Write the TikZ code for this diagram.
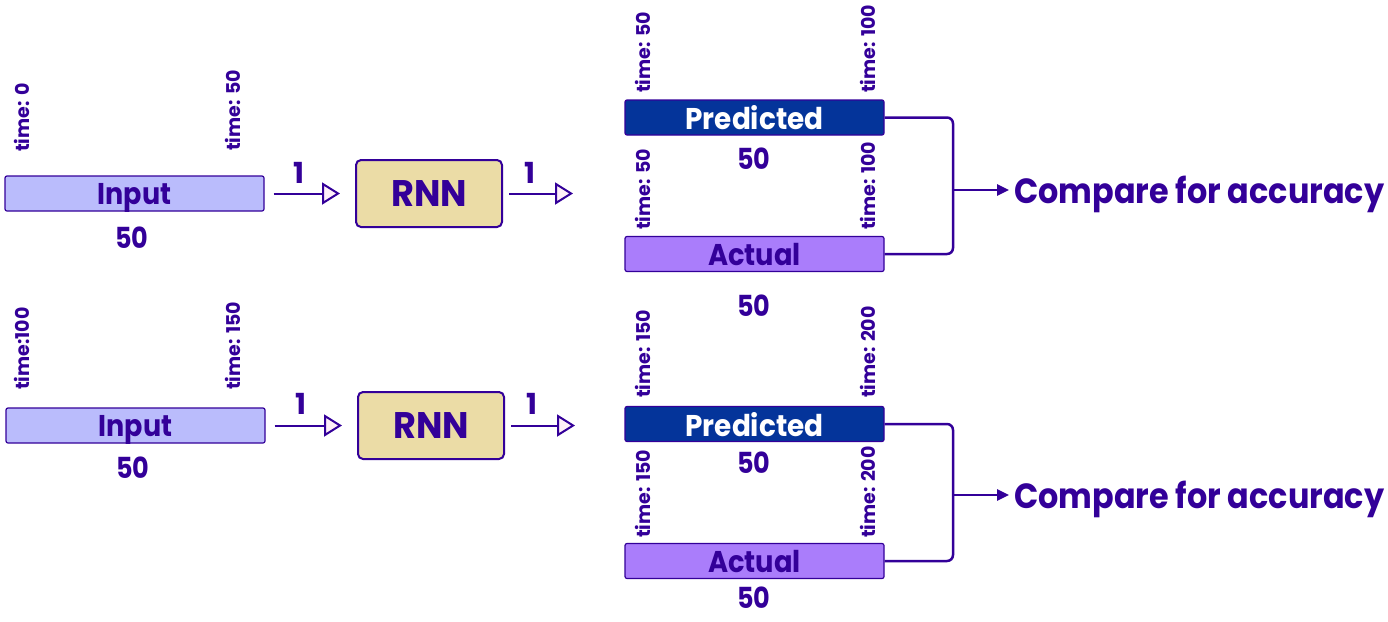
\documentclass[tikz,border=0pt]{standalone}
\usepackage{fontspec}
\usepackage{graphicx}
\setmainfont{Poppins}
\usetikzlibrary{arrows.meta}
\definecolor{ink}{HTML}{330099}
\definecolor{inputfill}{HTML}{BABCFC}
\definecolor{predfill}{HTML}{04349A}
\definecolor{actfill}{HTML}{AA7DFB}
\definecolor{rnnfill}{HTML}{EBDCA6}
\definecolor{headfill}{HTML}{FFF0F8}
\newcommand\narrowtxt[2]{\scalebox{#1}[1]{#2}}
\tikzset{
 every node/.style={text=ink},
 bar/.style={draw=ink, line width=1.2pt, rounded corners=2pt, minimum width=259pt, minimum height=35pt, inner sep=0pt, text depth=0pt, font=\bfseries\fontsize{30}{30}\selectfont},
 inbar/.style={bar, fill=inputfill},
 predbar/.style={bar, fill=predfill, text=white},
 actbar/.style={bar, fill=actfill},
 rnnbox/.style={draw=ink, line width=2pt, rounded corners=5pt, fill=rnnfill, minimum width=146pt, minimum height=67pt, inner sep=0pt, text depth=0pt, font=\bfseries\fontsize{37}{37}\selectfont},
 num/.style={inner sep=0pt, font=\bfseries\fontsize{29}{29}\selectfont},
 tlabel/.style={rotate=90, anchor=west, inner sep=0pt, font=\bfseries\fontsize{19}{19}\selectfont},
 flow/.style={draw=ink, line width=2pt, -{Triangle[length=18pt, width=22pt, fill=headfill]}},
 joinline/.style={draw=ink, line width=2.5pt, rounded corners=6pt},
 cmp/.style={draw=ink, line width=2.5pt, -{Triangle[length=12pt, width=11pt]}, shorten >=5pt},
 result/.style={anchor=west, inner sep=0pt, font=\bfseries\fontsize{35}{35}\selectfont}
}
\begin{document}
\begin{tikzpicture}[x=1pt, y=-1pt]
\useasboundingbox (0,0) rectangle (1388,621);
% ---------- top row ----------
\node[inbar] (in1) at (134.5,193.5) {\narrowtxt{0.9}{Input}};
\node[num] (n1) at (132,238) {\narrowtxt{0.88}{50}};
\node[tlabel] (t1) at (22,152) {time: 0};
\node[tlabel] (t2) at (233,151) {time: 50};
\node[rnnbox] (rnn1) at (429,193.5) {\narrowtxt{0.95}{RNN}};
\coordinate (o1) at (573,193.5);
\draw[flow] ([xshift=9pt]in1.east) -- ([xshift=-15pt]rnn1.west);
\draw[flow] ([xshift=6pt]rnn1.east) -- (o1);
\node[num] (a1) at (299,173) {1};
\node[num] (b1) at (530,173) {1};
\node[predbar] (pred1) at (754.5,117.5) {\narrowtxt{0.93}{Predicted}};
\node[num] (n2) at (754,159) {\narrowtxt{0.88}{50}};
\node[actbar] (act1) at (754.5,254) {\narrowtxt{0.91}{Actual}};
\node[num] (n3) at (754,306) {\narrowtxt{0.88}{50}};
\node[tlabel] (t3) at (643,93) {time: 50};
\node[tlabel] (t4) at (868,93) {time: 100};
\node[tlabel] (t5) at (643,230) {time: 50};
\node[tlabel] (t6) at (868,230) {time: 100};
\coordinate (j1) at (953,190);
\draw[joinline] (pred1.east) -| (j1) |- (act1.east);
\node[result] (c1) at (1014,194) {\narrowtxt{0.91}{Compare for accuracy}};
\draw[cmp] (j1) -- (j1 -| c1.west);
% ---------- bottom row ----------
\node[inbar] (in2) at (135.5,425.5) {\narrowtxt{0.9}{Input}};
\node[num] (n4) at (133,468) {\narrowtxt{0.88}{50}};
\node[tlabel] (t7) at (22,390) {time:100};
\node[tlabel] (t8) at (233,390) {time: 150};
\node[rnnbox] (rnn2) at (431,425.5) {\narrowtxt{0.95}{RNN}};
\coordinate (o2) at (575,425.5);
\draw[flow] ([xshift=9pt]in2.east) -- ([xshift=-15pt]rnn2.west);
\draw[flow] ([xshift=6pt]rnn2.east) -- (o2);
\node[num] (a2) at (301,404) {1};
\node[num] (b2) at (532,404) {1};
\node[predbar] (pred2) at (754.5,424) {\narrowtxt{0.93}{Predicted}};
\node[num] (n5) at (754,463) {\narrowtxt{0.88}{50}};
\node[actbar] (act2) at (754.5,561) {\narrowtxt{0.91}{Actual}};
\node[num] (n6) at (754,598) {\narrowtxt{0.88}{50}};
\node[tlabel] (t9) at (643,398) {time: 150};
\node[tlabel] (t10) at (868,398) {time: 200};
\node[tlabel] (t11) at (643,538) {time: 150};
\node[tlabel] (t12) at (868,538) {time: 200};
\coordinate (j2) at (953,495);
\draw[joinline] (pred2.east) -| (j2) |- (act2.east);
\node[result] (c2) at (1014,499) {\narrowtxt{0.91}{Compare for accuracy}};
\draw[cmp] (j2) -- (j2 -| c2.west);
\end{tikzpicture}
\end{document}
